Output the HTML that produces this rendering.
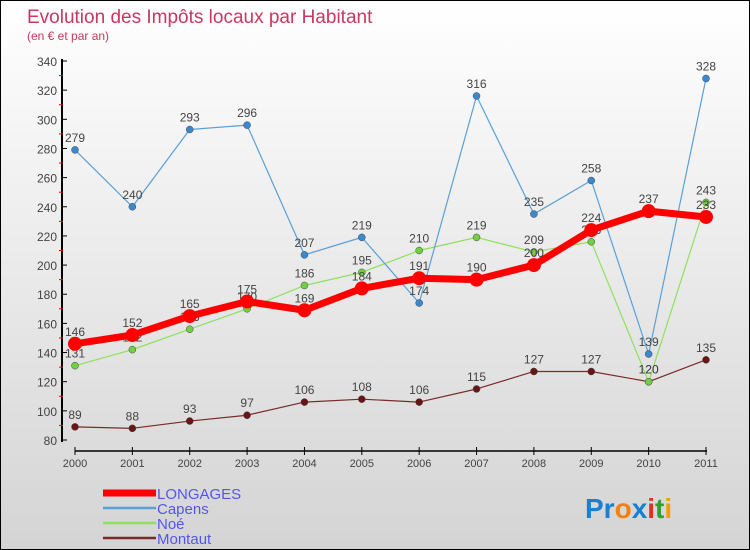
<!DOCTYPE html>
<html><head><meta charset="utf-8"><style>
body{margin:0}
#c{position:relative;width:748px;height:548px;border:1px solid #000;background:linear-gradient(#fff,#d4d4d4);font-family:"Liberation Sans",sans-serif;overflow:hidden}
</style></head><body>
<div id="c">
<svg id="s" width="748" height="548" style="position:absolute;left:0;top:0">
<text x="26" y="22" font-size="19" fill="#c8385f">Evolution des Impôts locaux par Habitant</text>
<text x="26" y="39" font-size="12" fill="#c8385f">(en € et par an)</text>
<g id="g"></g>
<text x="584" y="517" font-size="28" font-weight="bold"><tspan fill="#1a7fd0">Pr</tspan><tspan fill="#f08010">o</tspan><tspan fill="#1a7fd0">x</tspan><tspan fill="#e03020">i</tspan><tspan fill="#30a030">t</tspan><tspan fill="#f0a000">i</tspan></text>
</svg>
</div>
<script>
const years=["2000","2001","2002","2003","2004","2005","2006","2007","2008","2009","2010","2011"];
const yTicks=[80,100,120,140,160,180,200,220,240,260,280,300,320,340];
const longages=[146,152,165,175,169,184,191,190,200,224,237,233];
const capens=[279,240,293,296,207,219,174,316,235,258,139,328];
const noe=[131,142,156,170,186,195,210,219,209,216,120,243];
const montaut=[89,88,93,97,106,108,106,115,127,127,120,135];
const NS="http://www.w3.org/2000/svg";
const g=document.getElementById('g');
function X(i){return 74+i*(705-74)/11;}
function Y(v){return 439-(v-80)*(439-60)/260;}
function mk(t,a,p){const e=document.createElementNS(NS,t);for(const k in a)e.setAttribute(k,a[k]);(p||g).appendChild(e);return e;}
const ax=mk('line',{x1:61,y1:58,x2:61,y2:441,stroke:'#000','stroke-width':2});


const xx=mk('line',{x1:74,y1:450,x2:706,y2:450,stroke:'#000','stroke-width':1.5});


yTicks.forEach((v,i)=>{
  mk('line',{x1:61,y1:Y(v),x2:66,y2:Y(v),stroke:'#000'});
  if(i<yTicks.length-1)mk('line',{x1:58,y1:Y(v+10),x2:62,y2:Y(v+10),stroke:'#e00'});
  const t=mk('text',{x:56,y:Y(v)+5,'text-anchor':'end','font-size':12,fill:'#444'});t.textContent=v;
  
  
});
years.forEach((y,i)=>{
  mk('line',{x1:X(i),y1:446,x2:X(i),y2:454,stroke:'#000'});
  const t=mk('text',{x:X(i),y:466,'text-anchor':'middle','font-size':11,fill:'#444'});t.textContent=y;
  
  
});
const series=[
 {n:'montaut',d:montaut,c:'#7a2a2a',w:1.2,r:3.5,f:'#6a1515',lab:'Montaut'},
 {n:'noe',d:noe,c:'#90e060',w:1.2,r:3.5,f:'#70d040',lab:'Noé'},
 {n:'capens',d:capens,c:'#5aa0d8',w:1.2,r:3.5,f:'#3a88d0',lab:'Capens'},
 {n:'longages',d:longages,c:'#f00',w:7,r:7,f:'#f00',lab:'LONGAGES'}];
series.forEach(s=>{
  const p=mk('polyline',{points:s.d.map((v,i)=>X(i)+','+Y(v)).join(' '),fill:'none',stroke:s.c,'stroke-width':s.w,'stroke-linejoin':'round'});
  
  
  s.d.forEach((v,i)=>{
    const c=mk('circle',{cx:X(i),cy:Y(v),r:s.r,fill:s.f,stroke:s.r<5?'#444':'none','stroke-width':0.5});
    
    
    const t=mk('text',{x:X(i),y:Y(v)-8,'text-anchor':'middle','font-size':12,fill:'#444'});t.textContent=v;
    
    
  });
});
const leg=[series[3],series[2],series[1],series[0]];
leg.forEach((s,i)=>{
  const y=492+i*15;
  const l=mk('line',{x1:102,y1:y,x2:155,y2:y,stroke:s.c,'stroke-width':i==0?7:2.5});
  
  
  const t=mk('text',{x:156,y:y+6,'font-size':15,fill:'#5555ee'});t.textContent=s.lab;
  
  
});
</script>
</body></html>
